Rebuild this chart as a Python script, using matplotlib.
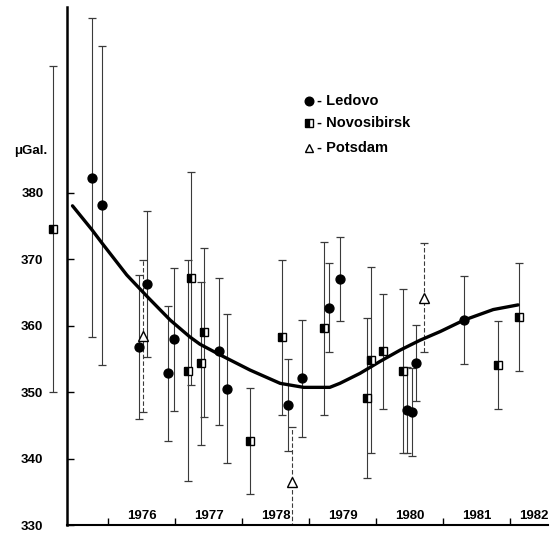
import numpy as np
import matplotlib
matplotlib.use('Agg')
import matplotlib.pyplot as plt

plt.rcParams['font.family'] = ['Liberation Sans', 'DejaVu Sans']
plt.rcParams['font.weight'] = 'bold'

# Ledovo (filled circles): epoch, gravity value, error (uGal)
led_t = [1975.76, 1975.91, 1976.46, 1976.58, 1976.90, 1976.99, 1977.66, 1977.77,
         1978.68, 1978.90, 1979.30, 1979.46, 1980.46, 1980.53, 1980.60, 1981.32]
led_g = [382.2, 378.1, 356.8, 366.2, 352.8, 357.9, 356.1, 350.5,
         348.0, 352.1, 362.7, 367.0, 347.3, 347.0, 354.4, 360.8]
led_e = [24.0, 24.0, 10.8, 11.0, 10.2, 10.8, 11.0, 11.2,
         6.9, 8.8, 6.7, 6.3, 6.5, 6.6, 5.7, 6.6]

# Novosibirsk (squares)
nov_t = [1975.18, 1977.24, 1977.20, 1977.44, 1977.39, 1978.12, 1978.59, 1979.23,
         1979.87, 1979.93, 1980.11, 1980.41, 1981.82, 1982.13]
nov_g = [374.5, 367.1, 353.2, 359.0, 354.3, 342.6, 358.2, 359.6,
         349.1, 354.8, 356.1, 353.2, 354.1, 361.3]
nov_e = [24.5, 16.0, 16.6, 12.7, 12.3, 8.0, 11.6, 13.0,
         12.0, 14.0, 8.7, 12.3, 6.6, 8.1]

# Potsdam (open triangles)
pot_t = [1976.52, 1978.75, 1980.71]
pot_g = [358.4, 336.5, 364.2]
pot_e = [11.4, 8.2, 8.2]

# smooth fitted curve
fit_t = [1975.47, 1975.76, 1975.91, 1976.28, 1976.59, 1976.93, 1977.22, 1977.37,
         1977.67, 1978.12, 1978.57, 1978.92, 1979.31, 1979.46, 1979.76, 1980.06,
         1980.36, 1980.66, 1980.96, 1981.31, 1981.75, 1982.12]
fit_g = [378.0, 374.4, 372.4, 367.6, 364.3, 360.8, 358.3, 357.2,
         355.6, 353.3, 351.3, 350.7, 350.7, 351.3, 352.8, 354.6,
         356.3, 357.8, 359.1, 360.8, 362.4, 363.1]

y_ticks = [330, 340, 350, 360, 370, 380]
years = [1976, 1977, 1978, 1979, 1980, 1981, 1982]
year_labels = ['1976', '1977', '1978', '1979', '1980', '1981', '1982']
year_label_pos = [1976.5, 1977.5, 1978.5, 1979.5, 1980.5, 1981.5, 1982.35]

fig = plt.figure(figsize=(5.5, 5.33), dpi=100)
ax = fig.add_axes([0, 8 / 533, 548 / 550, 518 / 533])
ax.set_xlim(1974.388, 1982.567)
ax.set_ylim(330, 407.9)

eb = dict(fmt='none', ecolor='#3a3a3a', elinewidth=0.8, capsize=2.6, capthick=0.9, zorder=2)
ax.errorbar(led_t, led_g, yerr=led_e, **eb)
ax.errorbar(nov_t, nov_g, yerr=nov_e, **eb)
pe = ax.errorbar(pot_t, pot_g, yerr=pot_e, **eb)
pe[2][0].set_linestyle((0, (4, 2)))

ax.plot(fit_t, fit_g, color='black', lw=2.4, solid_capstyle='round',
        solid_joinstyle='round', zorder=3)

ax.plot(led_t, led_g, 'o', ms=6.4, color='black', mec='black', zorder=4)
ax.plot(nov_t, nov_g, 's', ms=5.5, color='black', mec='black', fillstyle='left',
        markerfacecoloralt='white', mew=1.0, zorder=4)
ax.plot(pot_t, pot_g, '^', ms=6.5, mfc='white', mec='black', mew=1.0, zorder=4)

# axes styling
for s in ['top', 'right']:
    ax.spines[s].set_visible(False)
ax.spines['left'].set_position(('data', 1975.388))
ax.spines['left'].set_linewidth(1.8)
ax.spines['bottom'].set_bounds(1975.388, 1982.567)
ax.spines['bottom'].set_linewidth(1.5)

ax.set_yticks(y_ticks)
ax.set_yticklabels([str(v) for v in y_ticks])
ax.tick_params(axis='y', direction='in', length=5, width=1.0, pad=17, labelsize=9.5)

ax.set_xticks(years)
ax.set_xticklabels([])
ax.set_xticks(year_label_pos, minor=True)
ax.set_xticklabels(year_labels, minor=True)
ax.tick_params(axis='x', which='major', direction='in', length=5, width=1.0)
ax.tick_params(axis='x', which='minor', length=0, pad=-11, labelsize=9.5)

fig.text(14 / 550, 1 - 151 / 533, 'μGal.', ha='left', va='center', fontsize=9.5)

# legend drawn by hand
lx, tx = 0.564, 0.578
ax.plot([lx], [0.8185], 'o', ms=6.2, color='black', transform=ax.transAxes)
ax.plot([lx], [0.776], 's', ms=5.5, color='black', fillstyle='left',
        markerfacecoloralt='white', transform=ax.transAxes)
ax.plot([lx], [0.728], '^', ms=5.5, mfc='white', mec='black', transform=ax.transAxes)
ax.text(tx, 0.8185, '- Ledovo', transform=ax.transAxes, va='center', fontsize=10.5)
ax.text(tx, 0.776, '- Novosibirsk', transform=ax.transAxes, va='center', fontsize=10.5)
ax.text(tx, 0.728, '- Potsdam', transform=ax.transAxes, va='center', fontsize=10.5)

fig.savefig('out.png', dpi=100)
